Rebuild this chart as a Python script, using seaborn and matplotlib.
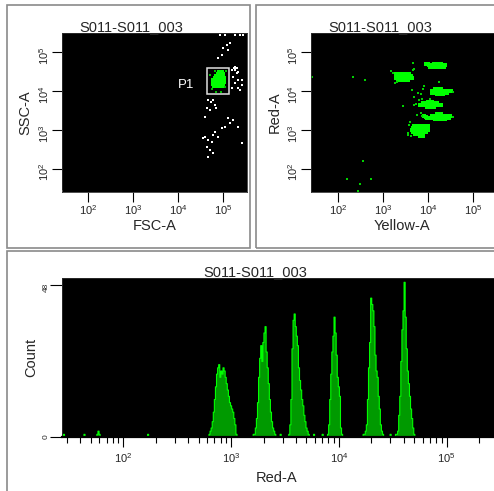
import numpy as np
import pandas as pd
import matplotlib
matplotlib.use("Agg")
import matplotlib.pyplot as plt
import seaborn as sns
from matplotlib.patches import Rectangle
from matplotlib.ticker import NullLocator, LogLocator, NullFormatter

# ---------------- data (log10 units) ----------------
title = "S011-S011_003"
log_tick_vals = [2, 3, 4, 5]
log_tick_labels = ["$10^{2}$", "$10^{3}$", "$10^{4}$", "$10^{5}$"]

# FSC-A / SSC-A : gated population P1 (green)
p1_fsc = [4.91, 4.95, 4.98,
          4.89, 4.93, 4.97, 5.00,
          4.84, 4.88, 4.92, 4.96, 5.00,
          4.82, 4.86, 4.90, 4.94, 4.98, 5.02,
          4.78, 4.82, 4.86, 4.90, 4.94, 4.98, 5.02,
          4.78, 4.82, 4.86, 4.90, 4.94, 4.98, 5.03,
          4.78, 4.82, 4.86, 4.90, 4.94, 4.98, 5.01,
          4.80, 4.84, 4.88, 4.92, 4.96, 4.99]
p1_ssc = [4.49, 4.49, 4.49,
          4.44, 4.44, 4.44, 4.44,
          4.38, 4.38, 4.38, 4.38, 4.38,
          4.33, 4.33, 4.33, 4.33, 4.33, 4.33,
          4.28, 4.28, 4.28, 4.28, 4.28, 4.28, 4.28,
          4.23, 4.23, 4.23, 4.23, 4.23, 4.23, 4.23,
          4.18, 4.18, 4.18, 4.18, 4.18, 4.18, 4.18,
          4.13, 4.13, 4.13, 4.13, 4.13, 4.13]
p1_stray_fsc = [4.76, 4.85, 4.95, 5.05, 4.72, 5.06, 4.83]
p1_stray_ssc = [4.05, 3.98, 3.97, 4.10, 4.40, 4.50, 4.52]

# FSC-A / SSC-A : other events (white)
other_fsc = [4.93, 5.04, 5.27, 5.38, 5.44, 5.09, 5.00, 5.11, 4.98, 4.89, 5.16,
             5.25, 5.27, 5.29, 5.27, 5.31, 5.20, 5.31, 5.22, 5.33, 5.27, 5.42,
             5.38, 5.20, 5.33, 5.42, 5.33,
             4.78, 4.73, 4.82, 4.84, 4.71, 4.64, 4.67, 4.60,
             5.11, 5.22, 5.16, 5.04, 4.98, 4.82, 4.78, 4.89, 4.60, 4.56, 4.67,
             4.76, 4.64, 4.71, 4.67, 5.42, 5.33, 4.78, 1.43]
other_ssc = [5.44, 5.44, 5.44, 5.44, 5.44, 5.18, 5.10, 5.05, 4.92, 4.85, 5.23,
             4.60, 4.62, 4.58, 4.55, 4.60, 4.54, 4.46, 4.36, 4.28, 4.21, 4.15,
             4.03, 4.08, 4.49, 4.28, 4.08,
             3.77, 3.72, 3.64, 3.56, 3.51, 3.56, 3.77, 3.33,
             3.31, 3.26, 3.18, 3.08, 3.05, 2.95, 2.87, 2.82, 2.82, 2.79, 2.74,
             2.69, 2.56, 2.49, 2.31, 2.67, 3.08, 2.41, 1.43]

# P1 gate (log10 corners) and label position
gate_fsc = [4.64, 5.13]
gate_ssc = [3.92, 4.59]
gate_label_pos = [4.18, 4.15]

# Yellow-A / Red-A : bead populations
yellow = [4.02, 4.07, 4.12, 4.17, 4.22, 4.27, 4.32, 4.37,
          4.05, 4.10, 4.15, 4.20, 4.25, 4.30, 4.35,
          3.96, 4.00, 4.14, 4.19, 4.24, 4.30,
          3.30, 3.35, 3.42, 3.50, 3.57,
          3.28, 3.33, 3.38, 3.44, 3.50, 3.56, 3.62,
          3.30, 3.35, 3.40, 3.46, 3.52, 3.58, 3.64,
          3.33, 3.38, 3.44, 3.50, 3.56,
          4.16, 4.22, 4.28,
          4.10, 4.15, 4.20, 4.25, 4.30, 4.35, 4.40, 4.46, 4.52,
          4.08, 4.13, 4.18, 4.23, 4.28, 4.33, 4.38, 4.43,
          4.20, 4.26, 4.33,
          4.00, 4.05, 4.10,
          3.90, 3.95, 4.00, 4.05, 4.10, 4.15, 4.20,
          3.82, 3.87, 3.93, 3.98, 4.03, 4.08, 4.13, 4.18, 4.24, 4.28,
          3.98, 4.03, 4.08, 4.14,
          4.20, 4.25, 4.30,
          4.10, 4.15, 4.20, 4.25, 4.30, 4.35, 4.40, 4.45, 4.50,
          4.05, 4.10, 4.15, 4.20, 4.25, 4.30, 4.35, 4.40, 4.46,
          4.15, 4.22, 4.30, 4.37,
          3.95, 3.98, 3.92, 4.00,
          3.70, 3.75, 3.80, 3.88, 3.95, 4.00,
          3.66, 3.71, 3.76, 3.81, 3.86, 3.91, 3.96, 4.01,
          3.64, 3.69, 3.74, 3.79, 3.84, 3.89, 3.94, 3.99,
          3.66, 3.71, 3.76, 3.81, 3.86, 3.91, 3.96,
          3.72, 3.78, 3.84, 3.90,
          3.82, 3.88]
red = [4.66, 4.66, 4.66, 4.66, 4.66, 4.66, 4.66, 4.66,
       4.61, 4.61, 4.61, 4.61, 4.61, 4.61, 4.61,
       4.70, 4.70, 4.70, 4.70, 4.70, 4.70,
       4.44, 4.44, 4.44, 4.44, 4.44,
       4.39, 4.39, 4.39, 4.39, 4.39, 4.39, 4.39,
       4.34, 4.34, 4.34, 4.34, 4.34, 4.34, 4.34,
       4.29, 4.29, 4.29, 4.29, 4.29,
       4.06, 4.06, 4.06,
       4.01, 4.01, 4.01, 4.01, 4.01, 4.01, 4.01, 4.01, 4.01,
       3.96, 3.96, 3.96, 3.96, 3.96, 3.96, 3.96, 3.96,
       3.92, 3.92, 3.92,
       3.73, 3.73, 3.73,
       3.68, 3.68, 3.68, 3.68, 3.68, 3.68, 3.68,
       3.63, 3.63, 3.63, 3.63, 3.63, 3.63, 3.63, 3.63, 3.63, 3.63,
       3.58, 3.58, 3.58, 3.58,
       3.41, 3.41, 3.41,
       3.36, 3.36, 3.36, 3.36, 3.36, 3.36, 3.36, 3.36, 3.36,
       3.31, 3.31, 3.31, 3.31, 3.31, 3.31, 3.31, 3.31, 3.31,
       3.27, 3.27, 3.27, 3.27,
       3.33, 3.31, 3.36, 3.30,
       3.10, 3.10, 3.10, 3.10, 3.10, 3.10,
       3.05, 3.05, 3.05, 3.05, 3.05, 3.05, 3.05, 3.05,
       3.00, 3.00, 3.00, 3.00, 3.00, 3.00, 3.00, 3.00,
       2.95, 2.95, 2.95, 2.95, 2.95, 2.95, 2.95,
       2.90, 2.90, 2.90, 2.90,
       2.85, 2.85]

# Yellow-A / Red-A : stray events
yellow_stray = [3.22, 3.18, 3.66, 3.70, 3.31, 3.26, 3.92, 3.85, 3.77, 4.55,
                3.74, 3.70, 3.80, 3.86, 3.69, 4.05, 3.86, 3.84, 4.55,
                3.58, 3.55, 3.60, 3.62,
                3.67, 1.42, 2.33, 2.60, 2.56, 2.20, 2.49, 2.44, 2.73, 3.44, 4.24,
                3.64, 3.89, 3.76, 3.56]
red_stray = [4.47, 4.50, 4.53, 4.56, 4.24, 4.20, 4.12, 3.93, 3.96, 3.98,
             3.66, 3.63, 3.78, 3.79, 3.84, 3.80, 3.37, 3.44, 3.34,
             3.14, 2.92, 3.20, 2.85,
             4.72, 4.36, 4.36, 4.28, 2.20, 1.74, 1.62, 1.44, 1.74, 3.62, 4.23,
             4.03, 4.05, 3.38, 2.87]

# Red-A histogram: segment start (log10 of first bin) and counts per 0.01-decade bin
hist_bin_width = 0.01
hist_starts = [1.44, 1.63, 1.75, 2.22, 2.79, 3.20, 3.45, 3.53, 3.76, 3.84, 3.89,
               4.22, 4.47, 4.52]
hist_counts = [
    [1],
    [1],
    [1, 2, 1],
    [1],
    [1, 2, 3, 5, 8, 12, 16, 20, 22, 23, 19, 21, 20, 22, 21, 19, 17, 15, 13, 11,
     10, 9, 8, 6, 4, 1],
    [1, 1, 3, 6, 11, 19, 25, 29, 24, 30, 33, 35, 27, 22, 17, 12, 8, 5, 3, 2, 1],
    [1],
    [1, 4, 12, 28, 37, 39, 35, 32, 29, 22, 18, 15, 12, 10, 7, 5, 3, 2, 1],
    [1],
    [1],
    [1, 4, 12, 20, 27, 32, 38, 33, 26, 19, 16, 13, 3, 1],
    [1, 1, 2, 4, 12, 22, 30, 44, 42, 40, 35, 26, 21, 19, 13, 9, 4, 2, 1],
    [1],
    [1, 1, 2, 7, 13, 24, 34, 40, 49, 38, 28, 21, 17, 13, 9, 6, 3, 1],
]
count_ticks = [0, 48]

# ---------------- style ----------------
sns.set_theme(style="white")
plt.rcParams["font.family"] = ["Liberation Sans", "DejaVu Sans"]
plt.rcParams["mathtext.fontset"] = "custom"
plt.rcParams["mathtext.rm"] = "Liberation Sans"
plt.rcParams["mathtext.it"] = "Liberation Sans"
plt.rcParams["mathtext.default"] = "rm"

W, H = 494, 491
fig = plt.figure(figsize=(W / 100, H / 100), dpi=100)
fig.patch.set_facecolor("white")


def axes_px(x0, y0, x1, y1):
    return fig.add_axes([x0 / W, 1 - y1 / H, (x1 - x0) / W, (y1 - y0) / H])


ax1 = axes_px(62, 33, 247, 192)
ax2 = axes_px(311, 33, 494, 192)
ax3 = axes_px(62, 278, 494, 437)

GREEN = "#00ff00"
LABEL_FS = 10.5
TICK_FS = 8

# ---- panel 1: FSC-A vs SSC-A ----
sns.scatterplot(x=10 ** np.array(other_fsc), y=10 ** np.array(other_ssc), ax=ax1,
                color="white", marker="s", s=1.8, linewidth=0)
sns.scatterplot(x=10 ** np.array(p1_fsc), y=10 ** np.array(p1_ssc), ax=ax1,
                color=GREEN, marker="s", s=6, linewidth=0)
sns.scatterplot(x=10 ** np.array(p1_stray_fsc), y=10 ** np.array(p1_stray_ssc),
                ax=ax1, color="#00c000", marker="s", s=2.2, linewidth=0)
ax1.add_patch(Rectangle((10 ** gate_fsc[0], 10 ** gate_ssc[0]),
                        10 ** gate_fsc[1] - 10 ** gate_fsc[0],
                        10 ** gate_ssc[1] - 10 ** gate_ssc[0],
                        fill=False, edgecolor="#e0e0e0", linewidth=1.1, zorder=5))
ax1.text(10 ** gate_label_pos[0], 10 ** gate_label_pos[1], "P1", color="white",
         fontsize=9.5, ha="center", va="center")

# ---- panel 2: Yellow-A vs Red-A ----
sns.scatterplot(x=10 ** np.array(yellow), y=10 ** np.array(red), ax=ax2,
                color=GREEN, marker="s", s=7, linewidth=0)
sns.scatterplot(x=10 ** np.array(yellow_stray), y=10 ** np.array(red_stray), ax=ax2,
                color="#00d000", marker="s", s=2.5, linewidth=0)

for ax, xl in ((ax1, (1.422, 5.533)), (ax2, (1.40, 5.467))):
    ax.set_facecolor("black")
    ax.set_xscale("log")
    ax.set_yscale("log")
    ax.set_xlim(10 ** xl[0], 10 ** xl[1])
    ax.set_ylim(10 ** 1.41, 10 ** 5.487)
    ax.set_xticks([10.0 ** v for v in log_tick_vals], log_tick_labels)
    ax.set_yticks([10.0 ** v for v in log_tick_vals], log_tick_labels)
    ax.xaxis.set_minor_locator(NullLocator())
    ax.yaxis.set_minor_locator(NullLocator())
    ax.tick_params(axis="both", which="major", direction="out", length=7.2,
                   width=0.8, color="black", labelsize=TICK_FS,
                   bottom=True, left=True, pad=1)
    ax.tick_params(axis="y", labelrotation=90, pad=0.5)
    ax.set_xlabel("")
    ax.set_ylabel("")
    for sp in ax.spines.values():
        sp.set_color("#303030")
        sp.set_linewidth(0.6)

# ---- panel 3: Red-A histogram ----
centers, weights = [], []
for start, counts in zip(hist_starts, hist_counts):
    for i, c in enumerate(counts):
        centers.append(start + hist_bin_width * (i + 0.5))
        weights.append(c)
hist_df = pd.DataFrame({"red": 10 ** np.array(centers), "count": weights})
sns.histplot(data=hist_df, x="red", weights="count", binwidth=hist_bin_width,
             binrange=(1.40, 5.50), log_scale=True, element="step", fill=True,
             ax=ax3, facecolor="#009a00", edgecolor=GREEN, linewidth=0.8, alpha=1)
ax3.set_facecolor("black")
ax3.set_xlim(10 ** 1.431, 10 ** 5.439)
ax3.set_ylim(0, 50.2)
ax3.set_xticks([10.0 ** v for v in log_tick_vals], log_tick_labels)
ax3.xaxis.set_minor_locator(LogLocator(base=10, subs=np.arange(2, 10), numticks=20))
ax3.xaxis.set_minor_formatter(NullFormatter())
ax3.set_yticks(count_ticks, [str(v) for v in count_ticks])
ax3.tick_params(axis="x", which="major", direction="out", length=7.2, width=0.8,
                color="black", labelsize=TICK_FS, bottom=True, pad=3)
ax3.tick_params(axis="x", which="minor", direction="out", length=4.5, width=0.8,
                color="black", bottom=True)
ax3.tick_params(axis="y", which="major", direction="out", length=8.5, width=0.8,
                color="black", labelsize=6, left=True, labelrotation=90, pad=0.5)
ax3.set_xlabel("")
ax3.set_ylabel("")
for sp in ax3.spines.values():
    sp.set_color("#303030")
    sp.set_linewidth(0.6)
ax3.spines["bottom"].set_color("black")
ax3.spines["bottom"].set_linewidth(1.6)

# ---------------- texts ----------------
def ftext(x, y, s, **kw):
    fig.text(x / W, 1 - y / H, s, **kw)


ftext(131, 31.5, title, ha="center", va="baseline", fontsize=LABEL_FS)
ftext(380, 31.5, title, ha="center", va="baseline", fontsize=LABEL_FS)
ftext(255, 276.5, title, ha="center", va="baseline", fontsize=LABEL_FS)
ftext(154.5, 225.5, "FSC-A", ha="center", va="center", fontsize=LABEL_FS)
ftext(402, 226, "Yellow-A", ha="center", va="center", fontsize=LABEL_FS)
ftext(277, 478, "Red-A", ha="center", va="center", fontsize=LABEL_FS)
ftext(25, 112.5, "SSC-A", ha="center", va="center", fontsize=LABEL_FS, rotation=90)
ftext(275, 112.5, "Red-A", ha="center", va="center", fontsize=LABEL_FS, rotation=90)
ftext(31, 357.5, "Count", ha="center", va="center", fontsize=LABEL_FS, rotation=90)

# ---------------- panel frames ----------------
for (x0, y0, x1, y1) in ((7, 5, 250, 248), (256, 5, 500, 248), (7, 251, 500, 498)):
    fig.add_artist(Rectangle((x0 / W, 1 - y1 / H), (x1 - x0) / W, (y1 - y0) / H,
                             transform=fig.transFigure, fill=False,
                             edgecolor="#8a8a8a", linewidth=1.2))

fig.savefig("out.png", dpi=100, facecolor="white")
